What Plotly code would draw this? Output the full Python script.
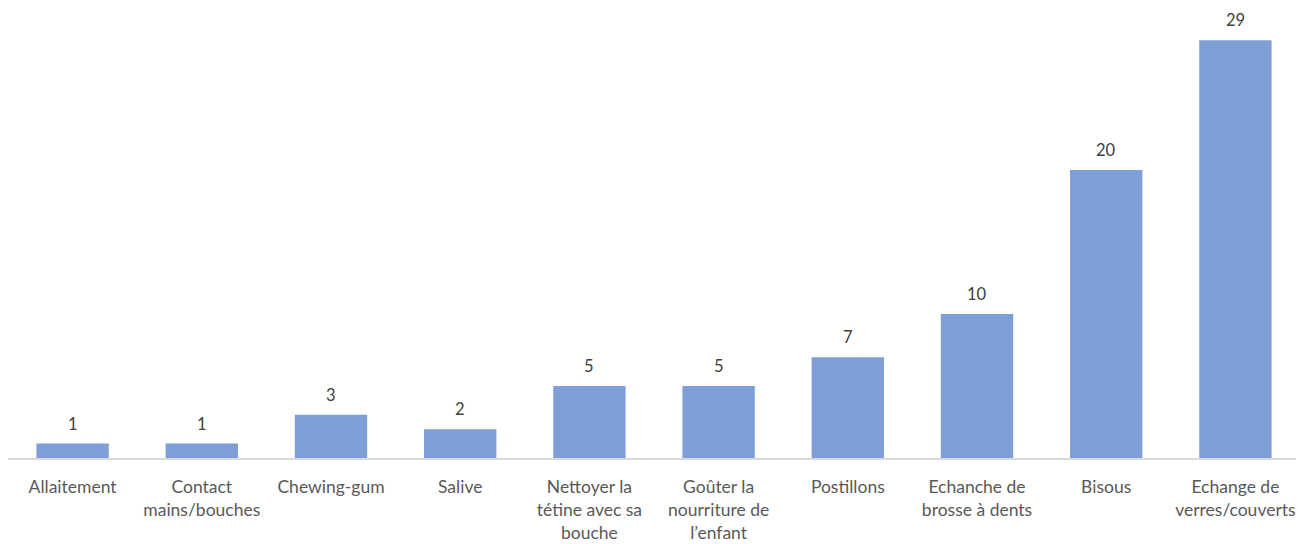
import plotly.graph_objects as go

# categories & counts
categories = ["Allaitement", "Contact<br>mains/bouches", "Chewing-gum", "Salive",
              "Nettoyer la<br>tétine avec sa<br>bouche", "Goûter la<br>nourriture de<br>l’enfant",
              "Postillons", "Echanche de<br>brosse à dents", "Bisous", "Echange de<br>verres/couverts"]
counts = [1, 1, 3, 2, 5, 5, 7, 10, 20, 29]

xs = list(range(len(categories)))

fig = go.Figure()
fig.add_trace(go.Bar(
    x=xs, y=counts,
    marker=dict(color="#7E9ED6", line=dict(width=0)),
    hoverinfo="skip",
))

# value labels above bars
for x, v in zip(xs, counts):
    fig.add_annotation(x=x, y=v, text=str(v), showarrow=False,
                       yanchor="bottom", yshift=8,
                       font=dict(family="Lato", size=16.5, color="#404040"))

# page body has an 8px margin, so the figure is a bit smaller than the window
fig.update_layout(
    width=1296, height=536,
    margin=dict(l=0, r=4, t=2, b=86, autoexpand=False),
    paper_bgcolor="white", plot_bgcolor="white",
    bargap=0.44, showlegend=False,
    font=dict(family="Lato", size=17.5, color="#595959"),
)
fig.update_xaxes(
    tickvals=xs, ticktext=categories,
    range=[-0.5, len(categories) - 0.5],
    showline=True, linecolor="#D9D9D9", linewidth=2,
    showgrid=False, ticks="", ticklabelstandoff=12, automargin=False,
    tickfont=dict(family="Lato", size=17.5, color="#595959"),
)
fig.update_yaxes(range=[0, 31.1], visible=False, showgrid=False, automargin=False)

fig.write_html("out.html")
